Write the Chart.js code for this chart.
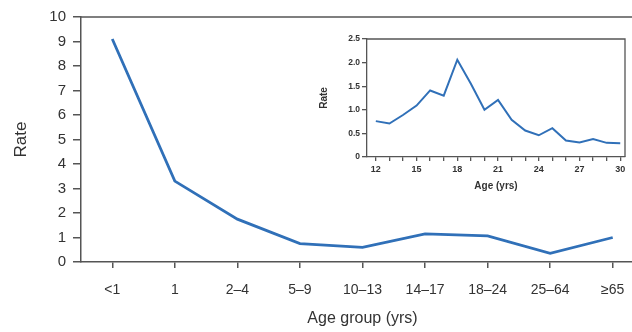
<!DOCTYPE html>
<html><head><meta charset="utf-8">
<script src="https://cdn.jsdelivr.net/npm/chart.js@4"></script>
<style>
html,body{margin:0;padding:0;background:#fff;overflow:hidden;width:632px;height:332px}
#wrap{position:relative;width:632px;height:332px;overflow:hidden;background:#fff}
#main{position:absolute;left:0;top:0}
#inset{position:absolute;left:300px;top:20px}
</style></head>
<body><div id="wrap"><canvas id="main" width="646" height="332"></canvas><canvas id="inset" width="332" height="180"></canvas></div>
<script>
// ---- data ----
const ageGroups = ['<1', '1', '2–4', '5–9', '10–13', '14–17', '18–24', '25–64', '≥65'];
const groupRates = [9.1, 3.3, 1.75, 0.75, 0.6, 1.15, 1.07, 0.35, 1.0];
const insetAges = [12,13,14,15,16,17,18,19,20,21,22,23,24,25,26,27,28,29,30];
const insetRates = [0.76,0.71,0.89,1.09,1.41,1.30,2.06,1.55,1.0,1.21,0.79,0.56,0.46,0.61,0.35,0.31,0.38,0.30,0.29];
const insetTickLabels = [12,15,18,21,24,27,30];
const mainYTicks = [0,1,2,3,4,5,6,7,8,9,10];

const FONT = 'Liberation Sans, Arial, Helvetica, sans-serif';
const LINE = '#3070b8';
const AX = '#555';
const TXT = '#333';

const framePlugin = {
  id: 'frame',
  afterDraw(chart, args, opts) {
    const {ctx, chartArea: a} = chart;
    ctx.save();
    ctx.strokeStyle = opts.color || AX;
    ctx.lineWidth = opts.width || 1;
    ctx.beginPath();
    ctx.moveTo(a.left, a.top); ctx.lineTo(a.right, a.top);
    if (opts.right) { ctx.lineTo(a.right, a.bottom); }
    ctx.stroke();
    ctx.restore();
  }
};

new Chart(document.getElementById('main'), {
  type: 'line',
  data: { labels: ageGroups, datasets: [{ data: groupRates, borderColor: LINE, borderWidth: 2.8, pointRadius: 0, tension: 0, fill: false }] },
  options: {
    responsive: false, animation: false, devicePixelRatio: 1,
    layout: { padding: { left: 10, top: 17, right: 2, bottom: 1 } },
    plugins: { legend: { display: false }, tooltip: { enabled: false },
      frame: { color: AX, width: 1.5, right: false } },
    scales: {
      x: {
        type: 'category', offset: true,
        grid: { offset: false, drawOnChartArea: false, tickLength: 6, color: AX, lineWidth: 1.5 },
        border: { color: AX, width: 1.5 },
        ticks: { color: TXT, font: { family: FONT, size: 14 }, padding: 14, maxRotation: 0, autoSkip: false },
        title: { display: true, text: 'Age group (yrs)', color: TXT, font: { family: FONT, size: 16 }, padding: { top: 0, bottom: 3 } },
        afterFit(s) { s.height = 69; }
      },
      y: {
        min: 0, max: 10,
        afterBuildTicks(s) { s.ticks = mainYTicks.map(v => ({ value: v })); },
        grid: { drawOnChartArea: false, tickLength: 8, color: AX, lineWidth: 1.5 },
        border: { color: AX, width: 1.5 },
        ticks: { color: TXT, font: { family: FONT, size: 15 }, padding: 7 },
        title: { display: true, text: 'Rate', color: TXT, font: { family: FONT, size: 17 }, padging: 0, padding: { top: 1, bottom: 0 } },
        afterFit(s) { s.width = 71; }
      }
    }
  },
  plugins: [framePlugin]
});

new Chart(document.getElementById('inset'), {
  type: 'line',
  data: { datasets: [{ data: insetAges.map((a, i) => ({ x: a, y: insetRates[i] })), borderColor: LINE, borderWidth: 2, pointRadius: 0, tension: 0, fill: false }] },
  options: {
    responsive: false, animation: false, devicePixelRatio: 1,
    layout: { padding: { left: 18, top: 19, right: 7, bottom: 4 } },
    plugins: { legend: { display: false }, tooltip: { enabled: false },
      frame: { color: AX, width: 1.3, right: true } },
    scales: {
      x: {
        type: 'linear', min: 11.35, max: 30.35,
        afterBuildTicks(s) { s.ticks = insetAges.map(v => ({ value: v })); },
        grid: { drawOnChartArea: false, tickLength: 4, color: AX, lineWidth: 1.3 },
        border: { color: AX, width: 1.3 },
        ticks: { color: '#333', font: { family: FONT, size: 9, weight: 'bold' }, padding: 3, maxRotation: 0, autoSkip: false,
          callback: v => insetTickLabels.includes(v) ? String(v) : '' },
        title: { display: true, text: 'Age (yrs)', color: '#333', font: { family: FONT, size: 10, weight: 'bold' }, padding: { top: 0, bottom: 4 } },
        afterFit(s) { s.height = 39; }
      },
      y: {
        min: 0, max: 2.5,
        ticks: { stepSize: 0.5, color: '#333', font: { family: FONT, size: 8.5, weight: 'bold' }, padding: 2,
          callback: v => v === 0 ? '0' : v.toFixed(1) },
        grid: { drawOnChartArea: false, tickLength: 5, color: AX, lineWidth: 1.3 },
        border: { color: AX, width: 1.3 },
        title: { display: true, text: 'Rate', color: '#333', font: { family: FONT, size: 10, weight: 'bold' }, padding: { top: 0, bottom: 0 } },
        afterFit(s) { s.width = 49; }
      }
    }
  },
  plugins: [framePlugin]
});
</script>
</body></html>
